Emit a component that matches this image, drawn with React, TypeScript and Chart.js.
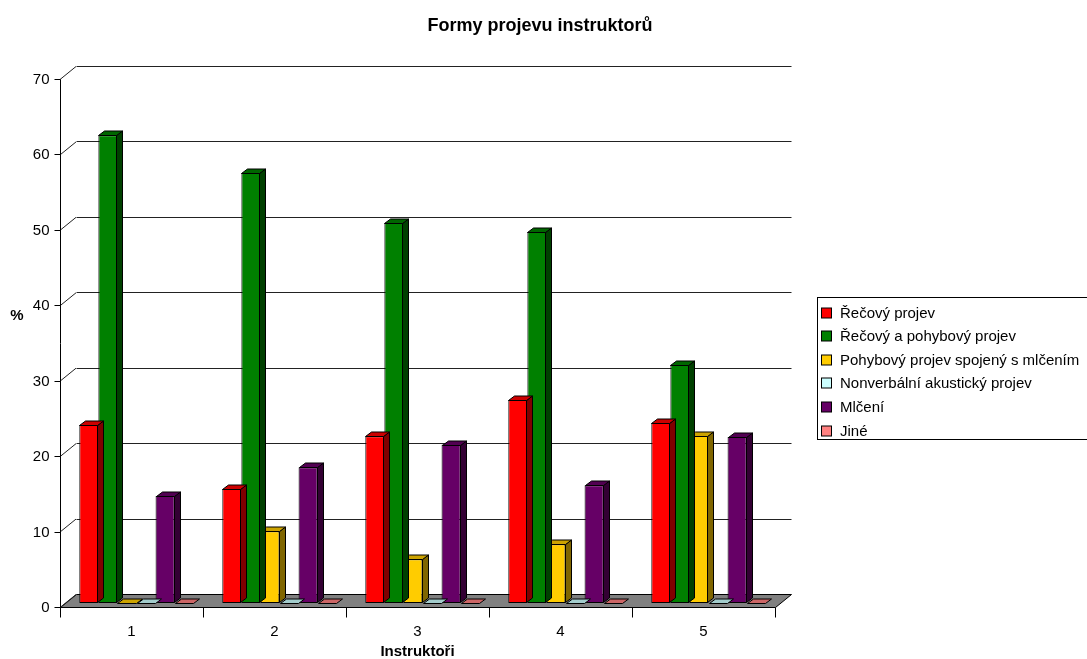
import { useEffect, useRef } from 'react';
import { Chart, registerables } from 'chart.js';

Chart.register(...registerables);

// ---- data ----
const categories = ['1', '2', '3', '4', '5'];
const seriesNames = [
  'Řečový projev',
  'Řečový a pohybový projev',
  'Pohybový projev spojený s mlčením',
  'Nonverbální akustický projev',
  'Mlčení',
  'Jiné',
];
const recovyProjev = [23.6, 15.1, 22.1, 26.9, 23.9];
const recovyAPohybovy = [62.0, 57.0, 50.4, 49.2, 31.6];
const pohybovySMlcenim = [0, 9.5, 5.8, 7.8, 22.2];
const nonverbalniAkusticky = [0, 0, 0, 0, 0];
const mlceni = [14.2, 18.0, 21.0, 15.6, 22.0];
const jine = [0, 0, 0, 0, 0];
const yTicks = [0, 10, 20, 30, 40, 50, 60, 70];

const seriesValues = [recovyProjev, recovyAPohybovy, pohybovySMlcenim, nonverbalniAkusticky, mlceni, jine];

// ---- styling ----
const frontColors = ['#FF0000', '#008000', '#FFCC00', '#CCFFFF', '#660066', '#FF8080'];
const topColors = ['#CC0000', '#006600', '#CCA300', '#A3CCCC', '#520052', '#CC6666'];
const sideColors = ['#800000', '#004000', '#806600', '#668080', '#330033', '#804040'];

const FONT = '"Liberation Sans", Arial, sans-serif';
const BAR_DX = 6;
const BAR_DY = 4.5;
// offsets of the front axis plane and the back wall relative to the bar plane
const FRONT = { dx: -5, dy: 4 };
const BACK = { dx: 11, dy: -9 };

const h = (v: number) => Math.round(v) + 0.5;

const wallsPlugin = {
  id: 'walls',
  beforeDatasetsDraw(chart: any) {
    const { ctx, chartArea, scales } = chart;
    const xs = scales.x;
    const ys = scales.y;
    const y0 = ys.getPixelForValue(0);
    const left = chartArea.left;
    const right = chartArea.right;
    ctx.save();
    ctx.lineWidth = 1;
    ctx.strokeStyle = '#000';

    // floor
    ctx.beginPath();
    ctx.moveTo(h(left + FRONT.dx), h(y0 + FRONT.dy));
    ctx.lineTo(h(right + FRONT.dx), h(y0 + FRONT.dy));
    ctx.lineTo(h(right + BACK.dx), h(y0 + BACK.dy));
    ctx.lineTo(h(left + BACK.dx), h(y0 + BACK.dy));
    ctx.closePath();
    ctx.fillStyle = '#808080';
    ctx.fill();
    ctx.stroke();

    // back gridlines and side diagonals
    ctx.strokeStyle = '#222';
    yTicks.forEach((v) => {
      const py = ys.getPixelForValue(v);
      ctx.beginPath();
      ctx.moveTo(left + FRONT.dx, py + FRONT.dy + 0.5);
      ctx.lineTo(left + BACK.dx, py + BACK.dy + 0.5);
      ctx.stroke();
      if (v > 0) {
        ctx.beginPath();
        ctx.moveTo(h(left + BACK.dx), h(py + BACK.dy));
        ctx.lineTo(h(right + BACK.dx), h(py + BACK.dy));
        ctx.stroke();
      }
    });

    // front value axis
    ctx.strokeStyle = '#000';
    const ax = h(left + FRONT.dx);
    ctx.beginPath();
    ctx.moveTo(ax, h(ys.getPixelForValue(yTicks[yTicks.length - 1]) + FRONT.dy));
    ctx.lineTo(ax, h(y0 + FRONT.dy));
    ctx.stroke();
    ctx.fillStyle = '#000';
    ctx.font = `15px ${FONT}`;
    ctx.textAlign = 'right';
    ctx.textBaseline = 'middle';
    yTicks.forEach((v) => {
      const py = h(ys.getPixelForValue(v) + FRONT.dy);
      ctx.beginPath();
      ctx.moveTo(ax - 6, py);
      ctx.lineTo(ax, py);
      ctx.stroke();
      ctx.fillText(String(v), ax - 11, py);
    });

    // front category axis
    const catW = (right - left) / categories.length;
    ctx.textAlign = 'center';
    for (let i = 0; i <= categories.length; i++) {
      const px = h(left + i * catW + FRONT.dx);
      ctx.beginPath();
      ctx.moveTo(px, h(y0 + FRONT.dy));
      ctx.lineTo(px, h(y0 + FRONT.dy) + 10);
      ctx.stroke();
    }
    categories.forEach((c, i) => {
      ctx.fillText(c, xs.getPixelForValue(i) + FRONT.dx, y0 + FRONT.dy + 25);
    });
    ctx.restore();
  },
  afterDatasetDraw(chart: any, args: any) {
    const { ctx } = chart;
    const i = args.index;
    const meta = chart.getDatasetMeta(i);
    ctx.save();
    ctx.lineWidth = 1;
    ctx.strokeStyle = '#000';
    ctx.lineJoin = 'miter';
    meta.data.forEach((el: any) => {
      const { x, y, base, width } = el.getProps(['x', 'y', 'base', 'width'], true);
      const l = Math.round(x - width / 2) + 0.5;
      const r = Math.round(x + width / 2) - 0.5;
      const t = Math.round(y) + 0.5;
      const b = Math.round(base) - 0.5;
      // side face
      if (b - t > 0.5) {
        ctx.beginPath();
        ctx.moveTo(r, t);
        ctx.lineTo(r + BAR_DX, t - BAR_DY);
        ctx.lineTo(r + BAR_DX, b - BAR_DY);
        ctx.lineTo(r, b);
        ctx.closePath();
        ctx.fillStyle = sideColors[i];
        ctx.fill();
        ctx.stroke();
      }
      // top face
      ctx.beginPath();
      ctx.moveTo(l, t);
      ctx.lineTo(r, t);
      ctx.lineTo(r + BAR_DX, t - BAR_DY);
      ctx.lineTo(l + BAR_DX, t - BAR_DY);
      ctx.closePath();
      ctx.fillStyle = topColors[i];
      ctx.fill();
      ctx.stroke();
    });
    ctx.restore();
  },
  afterDraw(chart: any) {
    const { ctx, chartArea } = chart;
    ctx.save();
    ctx.fillStyle = '#000';
    ctx.textBaseline = 'middle';
    ctx.textAlign = 'center';
    ctx.font = `bold 18px ${FONT}`;
    ctx.fillText('Formy projevu instruktorů', 540, 26);
    ctx.font = `bold 15px ${FONT}`;
    ctx.fillText('Instruktoři', (chartArea.left + chartArea.right) / 2 + FRONT.dx, 652);
    ctx.fillText('%', 17, 316);

    // legend
    const lx = 817.5;
    const ly = 297.5;
    const rowH = 23.6;
    ctx.strokeStyle = '#000';
    ctx.lineWidth = 1;
    ctx.strokeRect(lx, ly, 300, Math.round(rowH * seriesNames.length));
    ctx.font = `15px ${FONT}`;
    ctx.textAlign = 'left';
    seriesNames.forEach((name, i) => {
      const cy = Math.round(ly + 15 + i * rowH);
      ctx.fillStyle = frontColors[i];
      ctx.fillRect(821.5, cy - 5, 10, 10);
      ctx.strokeRect(821.5, cy - 5, 10, 10);
      ctx.fillStyle = '#000';
      ctx.fillText(name, 840, cy + 1);
    });
    ctx.restore();
  },
};

export default function App() {
  const canvasRef = useRef<HTMLCanvasElement | null>(null);

  useEffect(() => {
    if (!canvasRef.current) return;
    const chart = new Chart(canvasRef.current, {
      type: 'bar',
      data: {
        labels: categories,
        datasets: seriesNames.map((name, i) => ({
          label: name,
          data: seriesValues[i],
          backgroundColor: frontColors[i],
          borderColor: '#000',
          borderWidth: 1,
          borderSkipped: false,
          categoryPercentage: 0.8,
          barPercentage: 1.0,
        })),
      },
      options: {
        responsive: false,
        animation: false,
        devicePixelRatio: 1,
        layout: { padding: { left: 65, right: 307, top: 75, bottom: 56 } },
        plugins: {
          legend: { display: false },
          tooltip: { enabled: false },
          title: { display: false },
        },
        scales: {
          x: { display: false, offset: true },
          y: { display: false, min: 0, max: 70 },
        },
      },
      plugins: [wallsPlugin],
    });
    return () => chart.destroy();
  }, []);

  return (
    <div style={{ position: 'absolute', left: 0, top: 0, width: 1087, height: 659, background: '#fff' }}>
      <canvas ref={canvasRef} width={1087} height={659} style={{ display: 'block' }} />
    </div>
  );
}
